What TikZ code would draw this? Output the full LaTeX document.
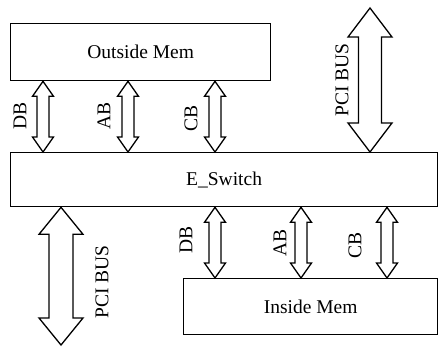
\documentclass[tikz,border=0pt]{standalone}
\usepackage{fontspec}
\setmainfont{Liberation Serif}
\usetikzlibrary{calc}
\tikzset{
  box/.style={draw, line width=1.3pt, rectangle, anchor=north west, inner sep=0pt, font=\fontsize{19.5}{22}\selectfont},
  lbl/.style={rotate=90, inner sep=0pt, font=\fontsize{19.5}{22}\selectfont},
  arr/.style={draw, line width=1.3pt, line join=miter, fill=white}
}
\newcommand\dblarrow[5]{%
  \draw[arr] ($(#1)+(-#3,#5)$) -- (#1) -- ($(#1)+(#3,#5)$) -- ($(#1)+(#4,#5)$)
    -- ($(#2)+(#4,-#5)$) -- ($(#2)+(#3,-#5)$) -- (#2) -- ($(#2)+(-#3,-#5)$)
    -- ($(#2)+(-#4,-#5)$) -- ($(#1)+(-#4,#5)$) -- cycle;}
\begin{document}
\begin{tikzpicture}[x=1pt,y=-1pt]
\useasboundingbox (0,0) rectangle (442,346);
\node[box, minimum width=260pt, minimum height=57pt] (om) at (10,23) {Outside Mem};
\node[box, minimum width=427pt, minimum height=54pt] (es) at (10,152) {E\_Switch};
\node[box, minimum width=254pt, minimum height=56pt] (im) at (183,278) {Inside Mem};
% top small arrows
\coordinate (t1) at ($(om.south west)+(33,0)$);
\coordinate (t2) at ($(om.south west)+(118,0)$);
\coordinate (t3) at ($(om.south west)+(205,0)$);
\coordinate (t1b) at (t1 |- es.north);
\coordinate (t2b) at (t2 |- es.north);
\coordinate (t3b) at (t3 |- es.north);
\dblarrow{t1}{t1b}{10.5}{6}{15}
\dblarrow{t2}{t2b}{10.5}{6}{15}
\dblarrow{t3}{t3b}{10.5}{6}{15}
% bottom small arrows
\coordinate (b1) at ($(es.south west)+(205,0)$);
\coordinate (b2) at ($(es.south west)+(291,0)$);
\coordinate (b3) at ($(es.south west)+(377,0)$);
\coordinate (b1b) at (b1 |- im.north);
\coordinate (b2b) at (b2 |- im.north);
\coordinate (b3b) at (b3 |- im.north);
\dblarrow{b1}{b1b}{10.5}{6}{15}
\dblarrow{b2}{b2b}{10.5}{6}{15}
\dblarrow{b3}{b3b}{10.5}{6}{15}
% PCI buses
\coordinate (p1) at (370,8);
\coordinate (p1b) at (p1 |- es.north);
\dblarrow{p1}{p1b}{22}{11.5}{29}
\coordinate (p2) at ($(es.south west)+(51,0)$);
\coordinate (p2b) at (61,345);
\dblarrow{p2}{p2b}{22}{12}{27}
% labels
\node[lbl] (l1) at (20,116) {DB};
\node[lbl] (l2) at (104,116) {AB};
\node[lbl] (l3) at (191,118) {CB};
\node[lbl] (l4) at (342,80) {PCI BUS};
\node[lbl] (l5) at (186,240) {DB};
\node[lbl] (l6) at (280,243) {AB};
\node[lbl] (l7) at (355,245) {CB};
\node[lbl] (l8) at (102,282) {PCI BUS};
\end{tikzpicture}
\end{document}
